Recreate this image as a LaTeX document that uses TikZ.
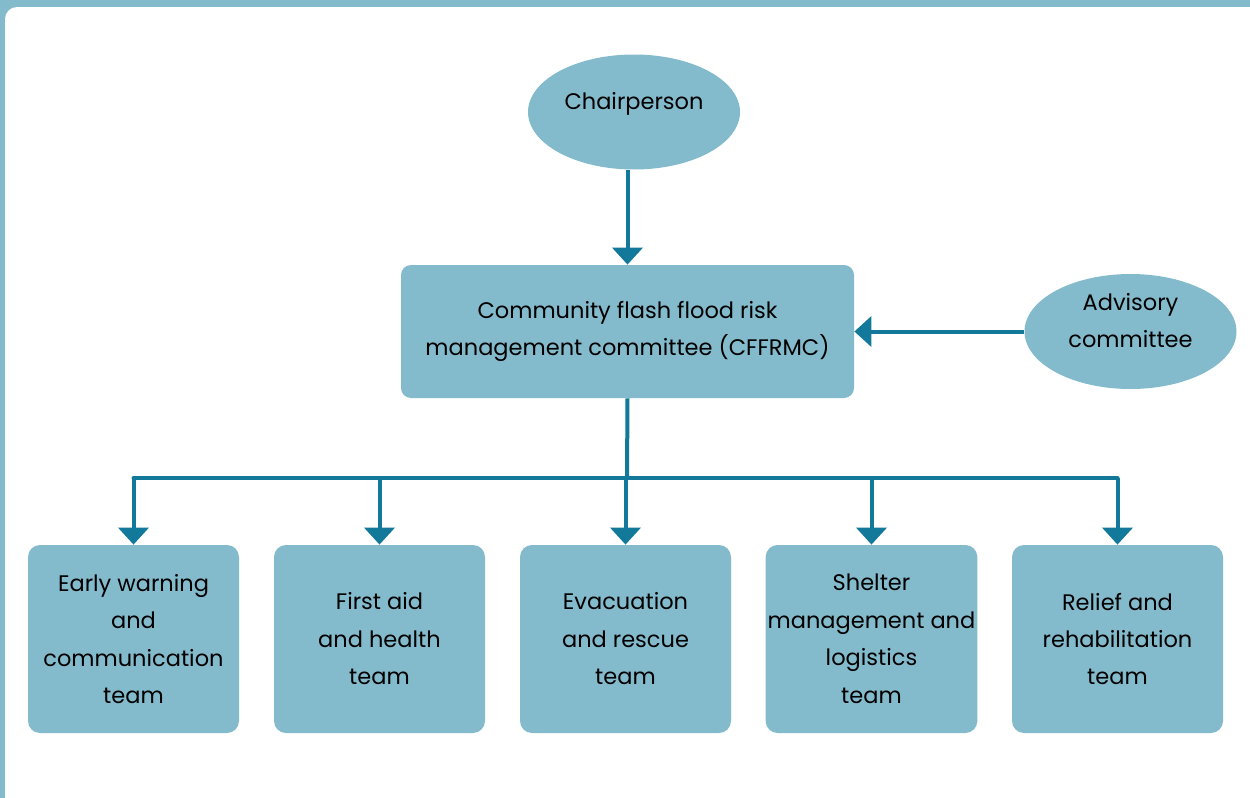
\documentclass[tikz,border=0pt]{standalone}
\usepackage{fontspec}
\setmainfont{Poppins}
\usetikzlibrary{shapes.geometric,arrows.meta,positioning}

\definecolor{paleblue}{HTML}{83BBCC}
\definecolor{deepteal}{HTML}{12799A}

\begin{document}
\begin{tikzpicture}[x=0.5pt,y=-0.5pt,
    font=\fontsize{11.25}{18.75}\selectfont,
    bubble/.style={ellipse,fill=paleblue,inner sep=0pt,minimum width=106pt,minimum height=57.5pt,align=center,text depth=11pt},
    boss/.style={rectangle,rounded corners=5pt,fill=paleblue,minimum width=226.5pt,minimum height=66.5pt,align=center},
    team/.style={rectangle,rounded corners=6pt,fill=paleblue,inner xsep=1pt,minimum width=105.5pt,minimum height=94pt,align=center},
    wire/.style={draw=deepteal,line width=2pt},
    feed/.style={wire,-{Triangle[width=15pt,length=8.5pt]}}]
  % frame
  \useasboundingbox (0,0) rectangle (1250,798);
  \fill[paleblue] (0,0) rectangle (1250,798);
  \fill[white,rounded corners=6pt] (5,7) rectangle (1264,814);

  % top of the chart
  \node[bubble] (chair) at (634,112) {Chairperson};
  \node[boss] (cffrmc) at (627.5,331.5) {Community flash flood risk\\management committee (CFFRMC)};
  \node[bubble] (advisory) at (1130.5,331.5) {Advisory\\committee};

  % teams
  \node[team] (early)    at (133.5,639) {Early warning\\and\\communication\\team};
  \node[team] (firstaid) at (379.5,639) {First aid\\and health\\team};
  \node[team] (evac)     at (625.5,639) {Evacuation\\and rescue\\team};
  \node[team] (shelter)  at (871.5,639) {Shelter\\management and\\logistics\\team};
  \node[team] (relief)   at (1117.5,639) {Relief and\\rehabilitation\\team};

  % links
  \draw[feed] (cffrmc.north |- chair.south) -- (cffrmc.north);
  \draw[feed] (advisory.west) -- (cffrmc.east);
  \coordinate (bus) at (627,478);
  \draw[wire] (cffrmc.south) -- (bus);
  \draw[wire,line cap=round] (early.north |- bus) -- (relief.north |- bus);
  \foreach \t in {early,firstaid,evac,shelter,relief}
    \draw[feed] (\t.north |- bus) -- (\t.north);
\end{tikzpicture}
\end{document}
